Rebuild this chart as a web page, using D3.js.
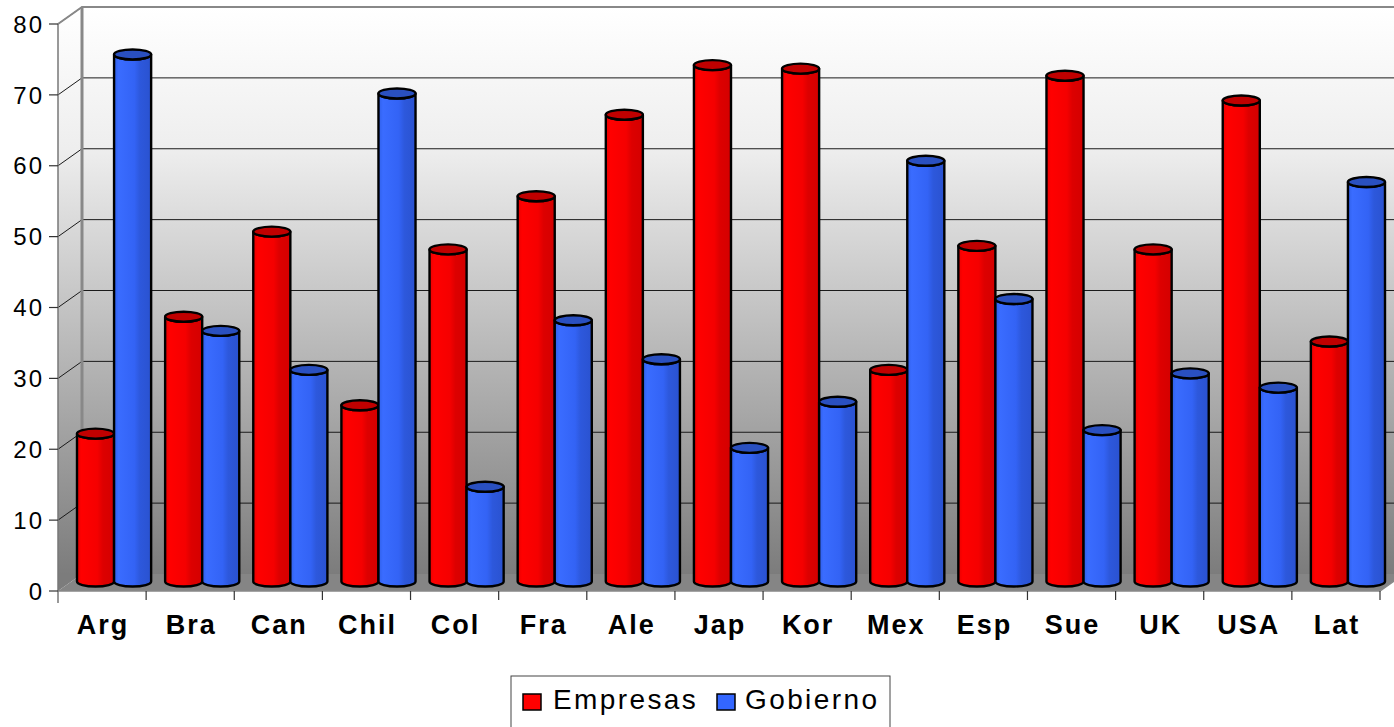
<!DOCTYPE html>
<html>
<head>
<meta charset="utf-8">
<script src="https://cdn.jsdelivr.net/npm/d3@7"></script>
<style>
  body { margin: 0; background: #fff; }
  text { font-family: Arial, "Liberation Sans", sans-serif; }
</style>
</head>
<body>
<div id="chart"></div>
<script>
var categories = ["Arg", "Bra", "Can", "Chil", "Col", "Fra", "Ale", "Jap", "Kor", "Mex", "Esp", "Sue", "UK", "USA", "Lat"];
var seriesNames = ["Empresas", "Gobierno"];
var empresas = [21, 37.5, 49.5, 25, 47, 54.5, 66, 73, 72.5, 30, 47.5, 71.5, 47, 68, 34];
var gobierno = [74.5, 35.5, 30, 69, 13.5, 37, 31.5, 19, 25.5, 59.5, 40, 21.5, 29.5, 27.5, 56.5];
var yTicks = [0, 10, 20, 30, 40, 50, 60, 70, 80];

var width = 1394,
    height = 727;

// front plane of the 3d box, depth offset of the back wall
var plotLeft = 58, plotRight = 1380, plotTop = 24, plotBottom = 591;
var dx = 24, dy = -17;

var svg = d3.select("#chart")
    .append("svg")
    .attr("width", width)
    .attr("height", height);

var x0 = d3.scaleBand().domain(categories).range([plotLeft, plotRight]);
var x1 = d3.scaleBand().domain(seriesNames).range([7, x0.bandwidth() - 7]);
var y = d3.scaleLinear().domain([0, 80]).range([plotBottom, plotTop]);

var defs = svg.append("defs");

/** wall gradient **/
var wall = defs.append("linearGradient")
    .attr("id", "wall")
    .attr("gradientUnits", "userSpaceOnUse")
    .attr("x1", 0).attr("y1", plotTop + dy)
    .attr("x2", 0).attr("y2", plotBottom + dy);
wall.append("stop").attr("offset", "0%").attr("stop-color", "#ffffff");
wall.append("stop").attr("offset", "25%").attr("stop-color", "#eeeeee");
wall.append("stop").attr("offset", "100%").attr("stop-color", "#7c7c7c");

/** cylinder body gradients **/
var shades = {
  Empresas: [["0%", "#e80000"], ["12%", "#ff0000"], ["55%", "#f50000"], ["70%", "#dd0000"], ["100%", "#d40000"]],
  Gobierno: [["0%", "#2f5fe8"], ["12%", "#3a6cff"], ["55%", "#3363f5"], ["70%", "#2d58dc"], ["100%", "#2a52d0"]]
};
var topColor = { Empresas: "#c00000", Gobierno: "#2a50c0" };

seriesNames.forEach(function(s) {
  var g = defs.append("linearGradient")
      .attr("id", "body-" + s)
      .attr("x1", "0%").attr("x2", "100%")
      .attr("y1", "0%").attr("y2", "0%");
  shades[s].forEach(function(d) {
    g.append("stop").attr("offset", d[0]).attr("stop-color", d[1]);
  });
});

/* Draw the back wall, left wall and floor */
svg.append("polygon")
    .attr("points", [[plotLeft + dx, plotTop + dy], [width + 20, plotTop + dy], [width + 20, plotBottom + dy], [plotLeft + dx, plotBottom + dy]].join(" "))
    .style("fill", "url(#wall)");

svg.append("polygon")
    .attr("points", [[plotLeft, plotTop], [plotLeft + dx, plotTop + dy], [plotLeft + dx, plotBottom + dy], [plotLeft, plotBottom]].join(" "))
    .style("fill", "url(#wall)");

svg.append("polygon")
    .attr("points", [[plotLeft, plotBottom], [plotLeft + dx, plotBottom + dy], [plotRight + dx, plotBottom + dy], [plotRight, plotBottom]].join(" "))
    .style("fill", "#858585");

/* Grid lines */
svg.selectAll(".grid")
    .data(yTicks.slice(1))
    .enter().append("polyline")
    .attr("points", function(d) {
      return [[plotLeft, y(d)], [plotLeft + dx, y(d) + dy], [width + 20, y(d) + dy]].join(" ");
    })
    .style("fill", "none")
    .style("stroke", "#1a1a1a")
    .style("stroke-width", 1);

// wall edges
svg.append("polyline")
    .attr("points", [[plotLeft, plotTop], [plotLeft + dx, plotTop + dy], [width + 20, plotTop + dy]].join(" "))
    .style("fill", "none")
    .style("stroke", "#888")
    .style("stroke-width", 2);

svg.append("line")
    .attr("x1", plotLeft + dx).attr("y1", plotTop + dy)
    .attr("x2", plotLeft + dx).attr("y2", plotBottom + dy)
    .style("stroke", "#888")
    .style("stroke-width", 3);

svg.append("polyline")
    .attr("points", [[plotLeft, plotBottom], [plotRight, plotBottom], [plotRight + dx, plotBottom + dy]].join(" "))
    .style("fill", "none")
    .style("stroke", "#888")
    .style("stroke-width", 1.5);

/* Cylinders, placed halfway into the depth */
var mx = dx / 2, my = dy / 2, ry = 5;

var groups = svg.selectAll(".cat")
    .data(categories)
    .enter().append("g")
    .attr("transform", function(d) { return "translate(" + (x0(d) + mx) + "," + my + ")"; });

groups.selectAll(".bar")
    .data(function(d, i) {
      return [{ s: "Empresas", v: empresas[i] }, { s: "Gobierno", v: gobierno[i] }];
    })
    .enter().append("g")
    .each(function(d) {
      var g = d3.select(this);
      var xa = x1(d.s), xb = x1(d.s) + x1.bandwidth();
      var rx = (xb - xa) / 2;
      var yt = y(d.v), yb = y(0) - 1;
      g.append("path")
          .attr("d", "M" + xa + "," + yt +
                " L" + xa + "," + yb +
                " A" + rx + "," + ry + " 0 0 0 " + xb + "," + yb +
                " L" + xb + "," + yt +
                " A" + rx + "," + ry + " 0 0 1 " + xa + "," + yt + " Z")
          .style("fill", "url(#body-" + d.s + ")")
          .style("stroke", "#000")
          .style("stroke-width", 2.4)
          .style("stroke-linejoin", "round");
      g.append("ellipse")
          .attr("cx", xa + rx)
          .attr("cy", yt)
          .attr("rx", rx)
          .attr("ry", ry)
          .style("fill", topColor[d.s])
          .style("stroke", "#000")
          .style("stroke-width", 2.4);
    });

/* Y axis */
svg.append("line")
    .attr("x1", plotLeft).attr("y1", plotTop)
    .attr("x2", plotLeft).attr("y2", plotBottom + 12)
    .style("stroke", "#777")
    .style("stroke-width", 1.5);

svg.selectAll(".ytick")
    .data(yTicks)
    .enter().append("line")
    .attr("x1", plotLeft - 9).attr("x2", plotLeft)
    .attr("y1", function(d) { return y(d); })
    .attr("y2", function(d) { return y(d); })
    .style("stroke", "#333")
    .style("stroke-width", 1.2);

svg.selectAll(".ylabel")
    .data(yTicks)
    .enter().append("text")
    .attr("x", 44)
    .attr("y", function(d) { return y(d); })
    .attr("dy", "0.36em")
    .attr("text-anchor", "end")
    .style("font-size", "24px")
    .style("letter-spacing", "2px")
    .text(function(d) { return d; });

/* X axis ticks and labels */
svg.selectAll(".xtick")
    .data(categories)
    .enter().append("line")
    .attr("x1", function(d) { return x0(d) + x0.bandwidth(); })
    .attr("x2", function(d) { return x0(d) + x0.bandwidth(); })
    .attr("y1", plotBottom)
    .attr("y2", plotBottom + 9)
    .style("stroke", "#333")
    .style("stroke-width", 1.2);

svg.selectAll(".xlabel")
    .data(categories)
    .enter().append("text")
    .attr("x", function(d) { return x0(d) + x0.bandwidth() / 2 + 1; })
    .attr("y", 634)
    .attr("text-anchor", "middle")
    .style("font-size", "27px")
    .style("font-weight", "bold")
    .style("letter-spacing", "2px")
    .text(function(d) { return d; });

/* Legend */
var legend = svg.append("g");
legend.append("rect")
    .attr("x", 511).attr("y", 676)
    .attr("width", 379).attr("height", 70)
    .style("fill", "#fff")
    .style("stroke", "#444")
    .style("stroke-width", 1);

var legendPos = [{ s: "Empresas", x: 523, tx: 553 }, { s: "Gobierno", x: 717, tx: 745 }];
legend.selectAll(".sw")
    .data(legendPos)
    .enter().append("rect")
    .attr("x", function(d) { return d.x; })
    .attr("y", 694)
    .attr("width", 18).attr("height", 16)
    .style("fill", function(d) { return d.s == "Empresas" ? "#ff0000" : "#3366ff"; })
    .style("stroke", "#000")
    .style("stroke-width", 1.5);

legend.selectAll(".lt")
    .data(legendPos)
    .enter().append("text")
    .attr("x", function(d) { return d.tx; })
    .attr("y", 709)
    .style("font-size", "28px")
    .style("letter-spacing", "2.4px")
    .text(function(d) { return d.s; });
</script>
</body>
</html>
